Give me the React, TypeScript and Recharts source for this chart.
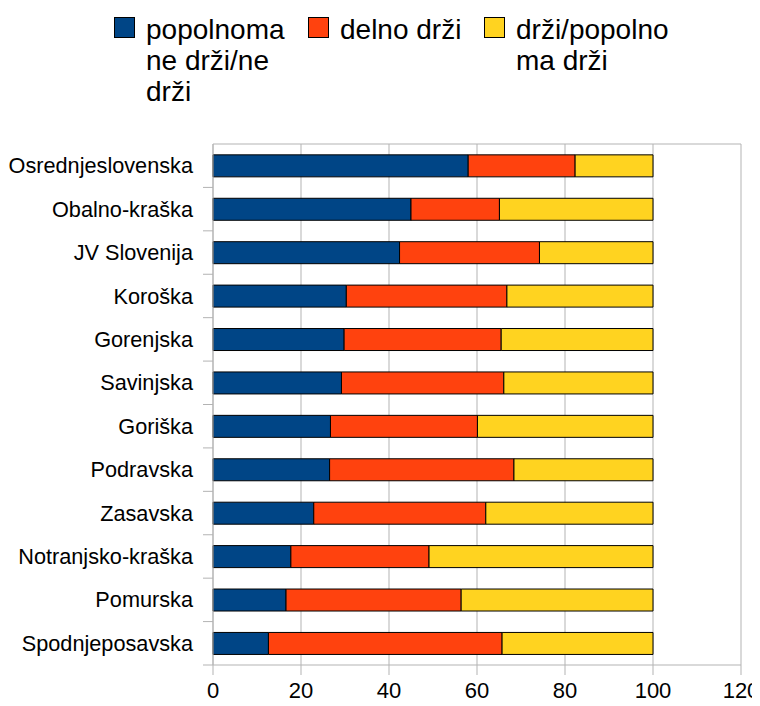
import React from 'react';
import { BarChart, Bar, XAxis, YAxis, CartesianGrid } from 'recharts';

const regions = [
  'Osrednjeslovenska',
  'Obalno-kraška',
  'JV Slovenija',
  'Koroška',
  'Gorenjska',
  'Savinjska',
  'Goriška',
  'Podravska',
  'Zasavska',
  'Notranjsko-kraška',
  'Pomurska',
  'Spodnjeposavska',
];
const notHolding = [58.0, 45.0, 42.4, 30.3, 29.8, 29.2, 26.7, 26.5, 22.9, 17.7, 16.6, 12.6];
const partlyHolding = [24.3, 20.1, 31.8, 36.5, 35.7, 36.9, 33.4, 41.9, 39.1, 31.4, 39.8, 53.1];
const holding = [17.7, 34.9, 25.8, 33.2, 34.5, 33.9, 39.9, 31.6, 38.0, 50.9, 43.6, 34.3];
const xTicks = [0, 20, 40, 60, 80, 100, 120];

const seriesKeys = ['notHolding', 'partlyHolding', 'holding'];
const seriesNames = ['popolnoma ne drži/ne drži', 'delno drži', 'drži/popolnoma drži'];
const legendLines = [['popolnoma', 'ne drži/ne', 'drži'], ['delno drži'], ['drži/popolno', 'ma drži']];
const colors = ['#004586', '#ff420e', '#ffd320'];

const data = regions.map((r, i) => ({
  region: r,
  notHolding: notHolding[i],
  partlyHolding: partlyHolding[i],
  holding: holding[i],
}));

const FONT = '"Liberation Sans", Arial, sans-serif';
const GRID = '#b3b3b3';

const YTick = (props: any) => {
  const { x, y, payload } = props;
  const off = payload && payload.offset ? payload.offset : 0;
  return (
    <g>
      <text x={x} y={y} dy="0.35em" textAnchor="end" fontSize={21.7} fontFamily={FONT} fill="#000">
        {payload.value}
      </text>
      <line x1={x + 10} x2={x + 20} y1={y + off} y2={y + off} stroke={GRID} strokeWidth={1} />
    </g>
  );
};

const XTick = (props: any) => {
  const { x, y, payload } = props;
  return (
    <text x={x} y={y} dy="0.71em" textAnchor="middle" fontSize={22} fontFamily={FONT} fill="#000">
      {payload.value}
    </text>
  );
};

const legendLeft = [106, 300, 476];

const Legend = () => (
  <div style={{ position: 'absolute', left: 0, top: 0, width: 752, height: 120, fontFamily: FONT }}>
    {legendLines.map((lines, i) => (
      <div key={seriesNames[i]} style={{ position: 'absolute', left: legendLeft[i], top: 6, display: 'flex' }}>
        <div
          style={{
            width: 21,
            height: 21,
            marginTop: 3,
            background: colors[i],
            border: '1px solid #000',
            boxSizing: 'border-box',
          }}
        />
        <div style={{ marginLeft: 11, fontSize: 28, lineHeight: '31px', color: '#000' }}>
          {lines.map((l) => (
            <div key={l}>{l}</div>
          ))}
        </div>
      </div>
    ))}
  </div>
);

export default function App() {
  return (
    <div style={{ position: 'relative', width: 752, height: 698, marginBottom: -8, background: '#fff' }}>
      <Legend />
      <BarChart
        width={752}
        height={698}
        data={data}
        layout="vertical"
        margin={{ top: 136, right: 19, bottom: 0, left: 0 }}
        barCategoryGap="25%"
      >
        <CartesianGrid
          stroke={GRID}
          vertical={true}
          horizontal={true}
          horizontalCoordinatesGenerator={({ offset }: any) => [offset.top]}
        />
        <XAxis
          type="number"
          domain={[0, 120]}
          ticks={xTicks}
          interval={0}
          tickSize={10}
          tickMargin={7}
          stroke={GRID}
          tick={<XTick />}
          height={41}
        />
        <YAxis
          type="category"
          dataKey="region"
          width={205}
          tickSize={0}
          tickMargin={20}
          tickLine={false}
          stroke={GRID}
          interval={0}
          tick={<YTick />}
        />
        {seriesKeys.map((k, i) => (
          <Bar
            key={k}
            dataKey={k}
            name={seriesNames[i]}
            stackId="a"
            fill={colors[i]}
            stroke="#000"
            strokeWidth={1}
            isAnimationActive={false}
          />
        ))}
      </BarChart>
    </div>
  );
}
